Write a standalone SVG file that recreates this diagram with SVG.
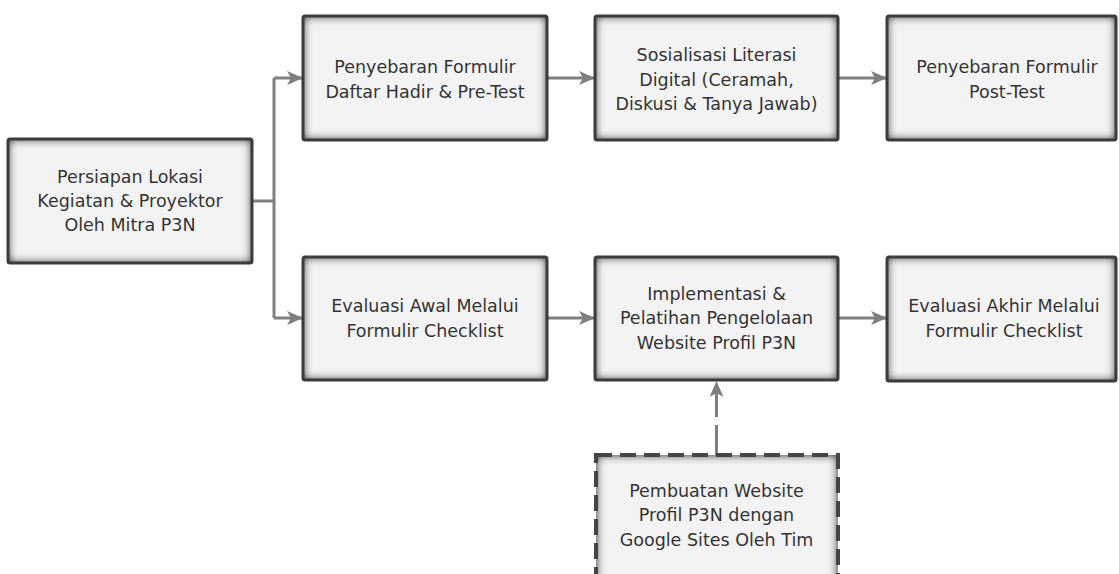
<svg xmlns="http://www.w3.org/2000/svg" width="1119" height="574" viewBox="0 0 1119 574">
<defs>
<style>
.box{fill:#f3f3f3;filter:url(#inner);}
.bd{fill:none;stroke:#3c3c3c;stroke-width:3;}
.dash{fill:none;stroke:#444;stroke-width:4;stroke-dasharray:16,8;}
.t{font-family:"DejaVu Sans",sans-serif;font-size:17.5px;fill:#333;text-anchor:middle;}
.c{fill:none;stroke:#7f7f7f;stroke-width:3;}
.cd{fill:none;stroke:#7f7f7f;stroke-width:3;stroke-dasharray:30,8;}
</style>
<filter id="inner" x="-10%" y="-20%" width="120%" height="140%">
<feFlood flood-color="#1e1e1e" result="f"/>
<feComposite in="f" in2="SourceAlpha" operator="out" result="o"/>
<feGaussianBlur in="o" stdDeviation="5" result="b"/>
<feComposite in="b" in2="SourceAlpha" operator="in" result="s"/>
<feMerge><feMergeNode in="SourceGraphic"/><feMergeNode in="s"/><feMergeNode in="s"/></feMerge>
</filter>
<marker id="ah" markerUnits="userSpaceOnUse" markerWidth="16" markerHeight="14" refX="15" refY="7" orient="auto">
<path d="M0,0 L16,7 L0,14 L4,7 Z" fill="#7f7f7f"/>
</marker>
</defs>
<rect width="1119" height="574" fill="#ffffff"/>

<g id="connectors">
<path class="c" d="M252,201 H274"/>
<path class="c" d="M274,78 V318"/>
<path class="c" d="M274,78 H302" marker-end="url(#ah)"/>
<path class="c" d="M274,318 H302" marker-end="url(#ah)"/>
<path class="c" d="M548,78 H594" marker-end="url(#ah)"/>
<path class="c" d="M839,78 H886" marker-end="url(#ah)"/>
<path class="c" d="M548,318 H594" marker-end="url(#ah)"/>
<path class="c" d="M839,318 H886" marker-end="url(#ah)"/>
<path class="cd" d="M716.5,455 V382" marker-end="url(#ah)"/>
</g>

<g id="n1">
<rect class="box" x="8" y="139" width="244" height="124"/>
<rect class="bd" x="8" y="139" width="244" height="124" rx="2"/>
<text class="t" x="130" y="183">Persiapan Lokasi</text>
<text class="t" x="130" y="207">Kegiatan &amp; Proyektor</text>
<text class="t" x="130" y="231">Oleh Mitra P3N</text>
</g>

<g id="n2">
<rect class="box" x="303" y="16" width="244" height="124"/>
<rect class="bd" x="303" y="16" width="244" height="124" rx="2"/>
<text class="t" x="425" y="73">Penyebaran Formulir</text>
<text class="t" x="425" y="98">Daftar Hadir &amp; Pre-Test</text>
</g>

<g id="n3">
<rect class="box" x="595" y="16" width="243" height="124"/>
<rect class="bd" x="595" y="16" width="243" height="124" rx="2"/>
<text class="t" x="716.5" y="61">Sosialisasi Literasi</text>
<text class="t" x="716.5" y="86">Digital (Ceramah,</text>
<text class="t" x="716.5" y="110">Diskusi &amp; Tanya Jawab)</text>
</g>

<g id="n4">
<rect class="box" x="887" y="16" width="229" height="124"/>
<rect class="bd" x="887" y="16" width="229" height="124" rx="2"/>
<text class="t" x="1007" y="73">Penyebaran Formulir</text>
<text class="t" x="1007" y="98">Post-Test</text>
</g>

<g id="n5">
<rect class="box" x="303" y="257" width="244" height="123"/>
<rect class="bd" x="303" y="257" width="244" height="123" rx="2"/>
<text class="t" x="425" y="312">Evaluasi Awal Melalui</text>
<text class="t" x="425" y="337">Formulir Checklist</text>
</g>

<g id="n6">
<rect class="box" x="595" y="257" width="243" height="123"/>
<rect class="bd" x="595" y="257" width="243" height="123" rx="2"/>
<text class="t" x="716.5" y="300">Implementasi &amp;</text>
<text class="t" x="716.5" y="324">Pelatihan Pengelolaan</text>
<text class="t" x="716.5" y="349">Website Profil P3N</text>
</g>

<g id="n7">
<rect class="box" x="887" y="257" width="229" height="124"/>
<rect class="bd" x="887" y="257" width="229" height="124" rx="2"/>
<text class="t" x="1004" y="312">Evaluasi Akhir Melalui</text>
<text class="t" x="1004" y="337">Formulir Checklist</text>
</g>

<g id="n8">
<rect class="box" x="596" y="455" width="242" height="134"/>
<rect class="dash" x="596" y="455" width="242" height="134"/>
<text class="t" x="716.5" y="497">Pembuatan Website</text>
<text class="t" x="716.5" y="521">Profil P3N dengan</text>
<text class="t" x="716.5" y="546">Google Sites Oleh Tim</text>
</g>
</svg>
